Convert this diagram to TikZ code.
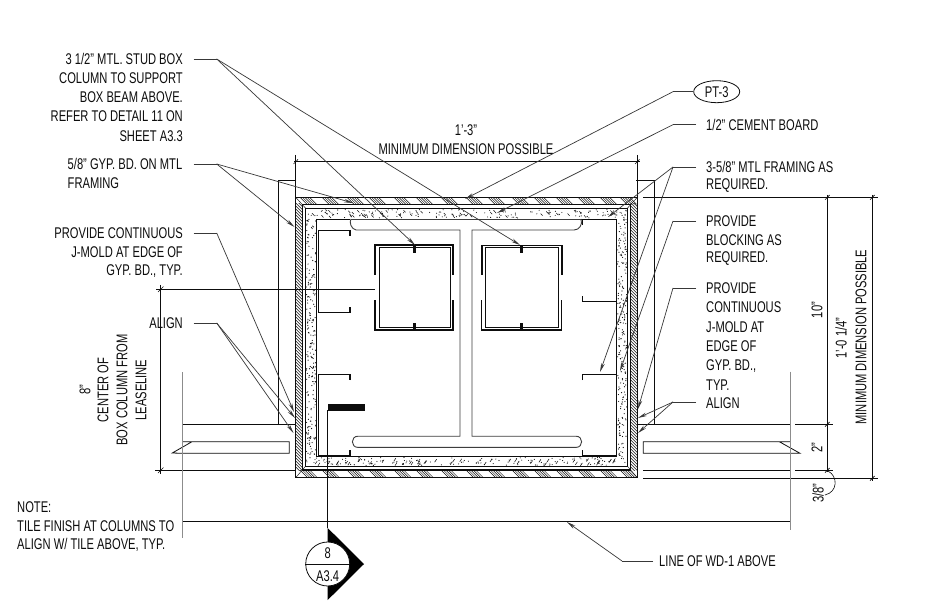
\documentclass[tikz,border=0pt]{standalone}
\usepackage{fontspec}
\setmainfont[FakeStretch=0.72]{Liberation Sans}
\usetikzlibrary{arrows.meta,shapes.geometric}
\definecolor{ink}{gray}{0.05}
\definecolor{lead}{gray}{0.22}
\definecolor{softgrey}{gray}{0.55}
\tikzset{
  lbl/.style={font=\fontsize{15.5}{15.5}\selectfont,text=ink,inner sep=0pt},
  lblR/.style={lbl,anchor=east},
  lblL/.style={lbl,anchor=west},
  lblrot/.style={lbl,rotate=90},
  thinline/.style={draw=ink,line width=0.8pt},
  greyline/.style={draw=softgrey,line width=1pt},
  wall/.style={draw=ink,line width=1.1pt},
  hatch/.style={draw=ink,line width=0.45pt},
  stud/.style={draw=ink,line width=1pt},
  furring/.style={draw=ink!80,line width=0.9pt},
  leaderline/.style={draw=lead,line width=0.7pt},
  arrowed/.style={leaderline,-{Stealth[length=9pt,width=3.6pt]}},
  tickmark/.style={draw=ink,line width=0.6pt},
}
\begin{document}
\begin{tikzpicture}[x=1pt,y=-1pt]
\useasboundingbox (0,0) rectangle (926,612);
\fill[white] (0,0) rectangle (926,612);

% ---- gypsum hatch
\begin{scope}
\clip (295.7,197.3) rectangle (637.3,204.3);
\foreach \g in {300,322,347,369,394,416,441,466,488,512,534,556,578,600,620}
  \foreach \i in {0,...,4} \draw[hatch] (\g+\i*2.4,197.3) -- ++(7,7);
\end{scope}
\begin{scope}
\clip (295.7,470) rectangle (637.3,477.7);
\foreach \g in {300,322,347,369,394,416,441,466,488,512,534,556,578,600,620}
  \foreach \i in {0,...,4} \draw[hatch] (\g+\i*2.4,470) -- ++(7.7,7.7);
\end{scope}
\begin{scope}
\clip (295.7,204) rectangle (302.7,470);
\foreach \y in {200,203,...,468} \draw[hatch] (295.7,\y) -- ++(7,7);
\end{scope}
\begin{scope}
\clip (630.7,204) rectangle (637.3,470);
\foreach \y in {200,203,...,468} \draw[hatch] (630.7,\y) -- ++(6.6,6.6);
\end{scope}
\draw[hatch] (295.7,197.3) -- (305.7,208.3) (637.3,197.3) -- (627.3,208.3)
             (295.7,477.7) -- (305.7,466) (637.3,477.7) -- (627.3,466);

% ---- cement board stipple
\pgfmathsetseed{4242}
\foreach \n in {1,...,150}{
  \pgfmathsetmacro{\px}{306.5+320*rnd}\pgfmathsetmacro{\py}{209.5+8.5*rnd}
  \fill[ink] (\px,\py) circle (0.55pt);
  \pgfmathsetmacro{\qx}{306.5+320*rnd}\pgfmathsetmacro{\qy}{457.5+8*rnd}
  \fill[ink] (\qx,\qy) circle (0.55pt);
}
\foreach \n in {1,...,45}{
  \pgfmathsetmacro{\px}{307+318*rnd}\pgfmathsetmacro{\py}{210+6*rnd}
  \draw[ink,line width=0.5pt] (\px,\py) -- ++(2,2.2);
  \pgfmathsetmacro{\qx}{307+318*rnd}\pgfmathsetmacro{\qy}{458+5*rnd}
  \draw[ink,line width=0.5pt] (\qx,\qy+3) -- ++(2,-3);
}
\foreach \n in {1,...,210}{
  \pgfmathsetmacro{\px}{306.5+9.5*rnd}\pgfmathsetmacro{\py}{219+238*rnd}
  \fill[ink] (\px,\py) circle (0.6pt);
  \pgfmathsetmacro{\qx}{617.5+9.5*rnd}\pgfmathsetmacro{\qy}{219+238*rnd}
  \fill[ink] (\qx,\qy) circle (0.6pt);
}

% ---- wall outlines
\draw[wall] (295.7,197.3) rectangle (637.3,477.7);
\draw[wall] (302.7,204.3) rectangle (630.7,470);
\draw[wall,line width=0.8pt] (305.7,208.3) rectangle (627.3,466);
\draw[wall,line width=0.8pt] (316.7,219) -- (350,219) (581,219) -- (616.7,219)
      (316.7,219) -- (316.7,456.7) -- (616.7,456.7) -- (616.7,219);

% ---- T-shaped furring
\draw[furring] (351,219) .. controls (349,222) and (351,229) .. (356,230)
   -- (460,230) -- (460,436.2) -- (358,436.2)
   .. controls (350.5,436.2) and (350.5,447.4) .. (358,447.4) -- (576,447.4)
   .. controls (583.5,447.4) and (583.5,436.2) .. (576,436.2) -- (472,436.2)
   -- (472,230) -- (574,230) .. controls (579,230) and (583,225) .. (581,219);
\draw[furring] (351,219) -- (581,219);

% ---- C studs
\draw[stud] (350,236) -- (350,230.7) -- (318.6,230.7) -- (318.6,312) -- (350,312) -- (350,307);
\draw[stud,line width=1.6pt] (350,231) -- (350,236) (350,312) -- (350,307);
\draw[stud] (582.3,225) -- (582.3,219.4) -- (616,219.4) -- (616,301) -- (582.3,301) -- (582.3,296);
\draw[stud] (350,380) -- (350,374.3) -- (318,374.3) -- (318,455.7) -- (350,455.7) -- (350,450);
\draw[stud,line width=1.6pt] (350,375) -- (350,380) (350,455.5) -- (350,450);
\draw[stud] (582,380) -- (582,374.3) -- (616,374.3) -- (616,455.7) -- (582,455.7) -- (582,450);

% ---- stud box columns
\foreach \xa/\xb/\wd in {375/453/2.0,481.7/561.7/1.6}{
  \pgfmathsetmacro{\xm}{(\xa+\xb)/2}
  \draw[stud] (\xa+4,248) rectangle (\xb-3,327.6);
  \draw[draw=ink,line width=\wd pt] (\xa,275) -- (\xa,245.5) -- (\xb,245.5) -- (\xb,275);
  \draw[draw=ink,line width=1.5pt] (\xa,300) -- (\xa,330) -- (\xb,330) -- (\xb,300);
  \fill[ink] (\xm-1.5,246) rectangle (\xm+1.5,253);
  \fill[ink] (\xm-1.5,323) rectangle (\xm+1.5,330);
}

% ---- blocking
\fill[ink] (327.7,404) rectangle (365,410.8);

% ---- dimension and grid lines
\draw[thinline] (294,161.7) -- (640,161.7);
\draw[thinline] (295.7,155) -- (295.7,197.3) (637.3,155) -- (637.3,197.3);
\draw[tickmark] (293.5,164) -- (298,159.4) (635,164) -- (639.5,159.4);
\draw[thinline] (296,180.7) -- (278.3,180.7) -- (278.3,424.3) -- (296,424.3);
\draw[thinline] (636,180.7) -- (654.7,180.7) -- (654.7,424.3);
\draw[thinline] (182,424.3) -- (296,424.3);
\draw[thinline] (637.3,424.3) -- (790,424.3) (795,424.3) -- (833,424.3);
\draw[thinline] (182,441.7) -- (192,441.7) -- (172.3,453) -- (182,453.3) -- (289.3,453.3) -- (289.3,441.7) -- (192,441.7);
\draw[thinline] (790,441.7) -- (643.3,441.7) -- (643.3,453.3) -- (800,453.3) -- (779.3,441.7);
\draw[thinline] (155,470.3) -- (296,470.3);
\draw[thinline] (643,470.3) -- (790,470.3) (795,470.3) -- (833,470.3);
\draw[thinline] (643,478.3) -- (878,478.3);
\draw[thinline] (182,521.5) -- (790,521.5);
\draw[greyline] (182,372) -- (182,538);
\draw[greyline] (790,371.7) -- (790,530);
\draw[thinline] (156,289.3) -- (374.5,289.3);
\draw[thinline] (160.7,285) -- (160.7,474);
\draw[tickmark] (158,473) -- (163.4,467.6) (158,292) -- (163.4,286.6);
\draw[thinline] (643,197.3) -- (878,197.3);
\draw[thinline] (827.3,195) -- (827.3,472);
\draw[thinline] (872.3,195) -- (872.3,481);
\draw[tickmark] (825,199.7) -- (829.6,195) (870,199.7) -- (874.6,195)
   (825,426.6) -- (829.6,422) (825,472.6) -- (829.6,468) (870,480.6) -- (874.6,476);
\draw[tickmark] (828,471) .. controls (838,476) and (838,492) .. (825,495);

% ---- section mark
\coordinate (secTop) at (327.7,528);
\coordinate (blockFoot) at (327.7,410);
\draw[thinline] (blockFoot) -- (secTop);
\fill[black] (327.7,528) -- (364,564) -- (327.7,600) -- cycle;
\node[circle,draw=ink,fill=white,line width=0.8pt,minimum size=44pt,inner sep=0pt] (secmark) at (327.7,564) {};
\draw[draw=ink,line width=0.6pt] (secmark.west) -- (secmark.east);
\node[lbl] (secNum) at (327.7,553.5) {8};
\node[lbl] (secSheet) at (327.7,576) {A3.4};

% ---- leaders: left
\coordinate (eStud) at (216.7,59);
\coordinate (fStud) at (193.7,59);
\coordinate (tStudA) at (415,245);
\coordinate (tStudB) at (520,245);
\draw[leaderline] (fStud) -- (eStud);
\draw[arrowed] (eStud) -- (tStudA);
\draw[arrowed] (eStud) -- (tStudB);
\coordinate (fGyp) at (193.7,164);
\coordinate (eGyp) at (216.7,164);
\coordinate (tGypA) at (353,203);
\coordinate (tGypB) at (294.5,227);
\draw[leaderline] (fGyp) -- (eGyp);
\draw[arrowed] (eGyp) -- (tGypA);
\draw[arrowed] (eGyp) -- (tGypB);
\coordinate (fJL) at (193.7,233);
\coordinate (eJL) at (216.7,233);
\coordinate (tJL) at (294,412);
\draw[leaderline] (fJL) -- (eJL);
\draw[arrowed] (eJL) -- (tJL);
\coordinate (fAL) at (193.7,323);
\coordinate (eAL) at (216.7,323);
\coordinate (tALa) at (295,418);
\coordinate (tALb) at (293.5,433);
\draw[leaderline] (fAL) -- (eAL);
\draw[arrowed] (eAL) -- (tALa);
\draw[arrowed] (eAL) -- (tALb);

% ---- leaders: right
\node[ellipse,draw=ink,line width=0.8pt,minimum width=46pt,minimum height=22pt,inner sep=0pt] (ptEll) at (716.7,91.7) {};
\node[lbl] (ptTxt) at (716.7,92) {PT-3};
\coordinate (ePT) at (673,91.7);
\coordinate (tPT) at (465,199);
\draw[leaderline] (ptEll.west) -- (ePT);
\draw[arrowed] (ePT) -- (tPT);
\coordinate (fCB) at (696,124.7);
\coordinate (eCB) at (673,124.7);
\coordinate (tCB) at (497,213);
\draw[leaderline] (fCB) -- (eCB);
\draw[arrowed] (eCB) -- (tCB);
\coordinate (fFR) at (696,167);
\coordinate (eFR) at (673,167);
\coordinate (tFRa) at (608,217);
\coordinate (tFRb) at (600,372);
\draw[leaderline] (fFR) -- (eFR);
\draw[arrowed] (eFR) -- (tFRa);
\draw[arrowed] (eFR) -- (tFRb);
\coordinate (fBL) at (696,221);
\coordinate (eBL) at (673,221);
\coordinate (tBL) at (620,371);
\draw[leaderline] (fBL) -- (eBL);
\draw[arrowed] (eBL) -- (tBL);
\coordinate (fJR) at (696,288);
\coordinate (eJR) at (673,288);
\coordinate (tJR) at (638,409);
\draw[leaderline] (fJR) -- (eJR);
\draw[arrowed] (eJR) -- (tJR);
\coordinate (fAR) at (696,402);
\coordinate (eAR) at (673,402);
\coordinate (tARa) at (638,418);
\coordinate (tARb) at (638,433);
\draw[leaderline] (fAR) -- (eAR);
\draw[arrowed] (eAR) -- (tARa);
\draw[arrowed] (eAR) -- (tARb);
\coordinate (fWD) at (653,561);
\coordinate (eWD) at (622,561);
\coordinate (tWD) at (567,522);
\draw[leaderline] (fWD) -- (eWD);
\draw[arrowed] (eWD) -- (tWD);

% ---- labels left
\node[lblR] (a1) at (183,59) {3 1/2" MTL. STUD BOX};
\node[lblR] (a2) at (183,78) {COLUMN TO SUPPORT};
\node[lblR] (a3) at (183,97) {BOX BEAM ABOVE.};
\node[lblR] (a4) at (183,116) {REFER TO DETAIL 11 ON};
\node[lblR] (a5) at (183,136) {SHEET A3.3};
\node[lblL] (b1) at (67.5,164) {5/8" GYP. BD. ON MTL};
\node[lblL] (b2) at (67.5,183.5) {FRAMING};
\node[lblR] (c1) at (183,233) {PROVIDE CONTINUOUS};
\node[lblR] (c2) at (183,252) {J-MOLD AT EDGE OF};
\node[lblR] (c3) at (183,271) {GYP. BD., TYP.};
\node[lblR] (d1) at (183,323) {ALIGN};
\node[lblL] (n1) at (17,507) {NOTE:};
\node[lblL] (n2) at (17,526) {TILE FINISH AT COLUMNS TO};
\node[lblL] (n3) at (17,545) {ALIGN W/ TILE ABOVE, TYP.};
\node[lblrot] (l1) at (85,390) {8"};
\node[lblrot] (l2) at (103,390) {CENTER OF};
\node[lblrot] (l3) at (122,390) {BOX COLUMN FROM};
\node[lblrot] (l4) at (141,390) {LEASELINE};

% ---- labels top
\node[lbl] (t1) at (466,130) {1'-3"};
\node[lbl] (t2) at (466,149) {MINIMUM DIMENSION POSSIBLE};

% ---- labels right
\node[lblL] (r1) at (706,125) {1/2" CEMENT BOARD};
\node[lblL] (r2) at (706,167) {3-5/8" MTL FRAMING AS};
\node[lblL] (r3) at (706,186) {REQUIRED.};
\node[lblL] (r4) at (706,221) {PROVIDE};
\node[lblL] (r5) at (706,240) {BLOCKING AS};
\node[lblL] (r6) at (706,259) {REQUIRED.};
\node[lblL] (r7) at (706,288) {PROVIDE};
\node[lblL] (r8) at (706,307.5) {CONTINUOUS};
\node[lblL] (r9) at (706,327) {J-MOLD AT};
\node[lblL] (r10) at (706,346.5) {EDGE OF};
\node[lblL] (r11) at (706,366) {GYP. BD.,};
\node[lblL] (r12) at (706,385) {TYP.};
\node[lblL] (r13) at (706,403) {ALIGN};
\node[lblL] (r14) at (659,561) {LINE OF WD-1 ABOVE};
\node[lblrot] (v1) at (817,310) {10"};
\node[lblrot] (v2) at (841,338) {1'-0 1/4"};
\node[lblrot] (v3) at (861,337) {MINIMUM DIMENSION POSSIBLE};
\node[lblrot] (v4) at (817,448) {2"};
\node[lblrot] (v5) at (818,493) {3/8"};
\end{tikzpicture}
\end{document}
